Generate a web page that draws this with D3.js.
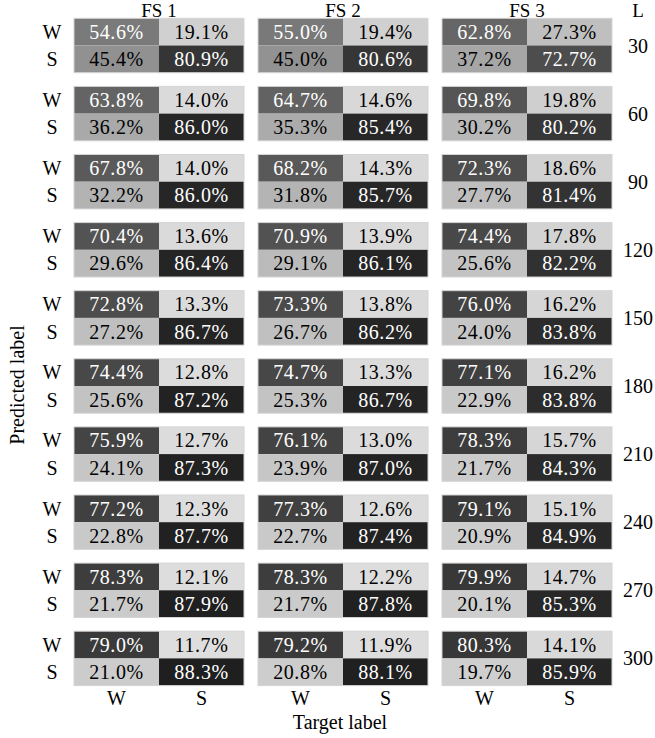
<!DOCTYPE html>
<html>
<head>
<meta charset="utf-8">
<script src="https://cdn.jsdelivr.net/npm/d3@7"></script>
<style>
  body { margin: 0; background: #fff; }
  svg text { font-family: "Liberation Serif", "DejaVu Serif", serif; }
  .pct { font-size: 20px; letter-spacing: 0.6px; }
  .lbl { font-size: 20px; }
  .title { font-size: 19px; }
</style>
</head>
<body>
<div id="chart-area"></div>
<script>
var lengths = [30, 60, 90, 120, 150, 180, 210, 240, 270, 300];
var featureSets = ['FS 1', 'FS 2', 'FS 3'];
var classes = ['W', 'S'];

// FS 1 (predicted row / target column)
var fs1WW = [54.6, 63.8, 67.8, 70.4, 72.8, 74.4, 75.9, 77.2, 78.3, 79.0];
var fs1WS = [19.1, 14.0, 14.0, 13.6, 13.3, 12.8, 12.7, 12.3, 12.1, 11.7];
var fs1SW = [45.4, 36.2, 32.2, 29.6, 27.2, 25.6, 24.1, 22.8, 21.7, 21.0];
var fs1SS = [80.9, 86.0, 86.0, 86.4, 86.7, 87.2, 87.3, 87.7, 87.9, 88.3];

// FS 2
var fs2WW = [55.0, 64.7, 68.2, 70.9, 73.3, 74.7, 76.1, 77.3, 78.3, 79.2];
var fs2WS = [19.4, 14.6, 14.3, 13.9, 13.8, 13.3, 13.0, 12.6, 12.2, 11.9];
var fs2SW = [45.0, 35.3, 31.8, 29.1, 26.7, 25.3, 23.9, 22.7, 21.7, 20.8];
var fs2SS = [80.6, 85.4, 85.7, 86.1, 86.2, 86.7, 87.0, 87.4, 87.8, 88.1];

// FS 3
var fs3WW = [62.8, 69.8, 72.3, 74.4, 76.0, 77.1, 78.3, 79.1, 79.9, 80.3];
var fs3WS = [27.3, 19.8, 18.6, 17.8, 16.2, 16.2, 15.7, 15.1, 14.7, 14.1];
var fs3SW = [37.2, 30.2, 27.7, 25.6, 24.0, 22.9, 21.7, 20.9, 20.1, 19.7];
var fs3SS = [72.7, 80.2, 81.4, 82.2, 83.8, 83.8, 84.3, 84.9, 85.3, 85.9];

var width = 655;
var height = 738;
var mid = 7; // shift from band centre to text baseline

var svg = d3.select('#chart-area').append('svg')
  .attr('width', width)
  .attr('height', height);

// build cell table from the arrays
var series = {
  'FS 1': { WW: fs1WW, WS: fs1WS, SW: fs1SW, SS: fs1SS },
  'FS 2': { WW: fs2WW, WS: fs2WS, SW: fs2SW, SS: fs2SS },
  'FS 3': { WW: fs3WW, WS: fs3WS, SW: fs3SW, SS: fs3SS }
};
var cells = [];
featureSets.forEach(fs => {
  lengths.forEach((len, i) => {
    classes.forEach(pred => {
      classes.forEach(target => {
        cells.push({ fs: fs, len: len, pred: pred, target: target, value: series[fs][pred + target][i] });
      });
    });
  });
});

// scales
var x = d3.scaleBand().domain(featureSets).range([74, 612]).paddingInner(0.076);
var y = d3.scaleBand().domain(lengths).range([18.3, 685.6]).paddingInner(0.201);
var xIn = d3.scaleBand().domain(classes).range([0, x.bandwidth()]);
var yIn = d3.scaleBand().domain(classes).range([0, y.bandwidth()]);
var shade = d3.scaleLinear().domain([0, 100]).range([0.12, 1.0]);

// cell backgrounds
svg.append('g').selectAll('rect')
  .data(cells)
  .enter().append('rect')
  .attr('x', d => x(d.fs) + xIn(d.target))
  .attr('y', d => y(d.len) + yIn(d.pred))
  .attr('width', xIn.bandwidth())
  .attr('height', yIn.bandwidth())
  .attr('fill', d => d3.interpolateGreys(shade(d.value)));

// thin outline around each matrix
featureSets.forEach(fs => {
  svg.append('g').selectAll('rect')
    .data(lengths)
    .enter().append('rect')
    .attr('x', x(fs))
    .attr('y', d => y(d))
    .attr('width', x.bandwidth())
    .attr('height', y.bandwidth())
    .attr('fill', 'none')
    .attr('stroke', '#d4d4d4')
    .attr('stroke-width', 1);
});

// cell values
svg.append('g').selectAll('text')
  .data(cells)
  .enter().append('text')
  .attr('class', 'pct')
  .attr('x', d => x(d.fs) + xIn(d.target) + xIn.bandwidth() / 2)
  .attr('y', d => y(d.len) + yIn(d.pred) + yIn.bandwidth() / 2 + mid)
  .attr('text-anchor', 'middle')
  .attr('fill', d => d.value > 50 ? '#fff' : '#000')
  .text(d => d.value.toFixed(1) + '%');

// row labels (predicted)
lengths.forEach(len => {
  svg.append('g').selectAll('text')
    .data(classes)
    .enter().append('text')
    .attr('class', 'lbl')
    .attr('x', 52)
    .attr('y', d => y(len) + yIn(d) + yIn.bandwidth() / 2 + mid)
    .attr('text-anchor', 'middle')
    .text(d => d);
});

// L labels on the right
svg.append('g').selectAll('text')
  .data(lengths)
  .enter().append('text')
  .attr('class', 'lbl')
  .attr('x', 638)
  .attr('y', d => y(d) + y.bandwidth() / 2 + mid)
  .attr('text-anchor', 'middle')
  .text(d => d);

svg.append('text')
  .attr('class', 'title')
  .attr('x', 638)
  .attr('y', 17)
  .attr('text-anchor', 'middle')
  .text('L');

// column titles
svg.append('g').selectAll('text')
  .data(featureSets)
  .enter().append('text')
  .attr('class', 'title')
  .attr('x', d => x(d) + x.bandwidth() / 2)
  .attr('y', 17)
  .attr('text-anchor', 'middle')
  .text(d => d);

// bottom target labels
featureSets.forEach(fs => {
  svg.append('g').selectAll('text')
    .data(classes)
    .enter().append('text')
    .attr('class', 'lbl')
    .attr('x', d => x(fs) + xIn(d) + xIn.bandwidth() / 2)
    .attr('y', 705)
    .attr('text-anchor', 'middle')
    .text(d => d);
});

// axis titles
svg.append('text')
  .attr('class', 'lbl')
  .attr('x', 340)
  .attr('y', 729)
  .attr('text-anchor', 'middle')
  .text('Target label');

svg.append('text')
  .attr('class', 'lbl')
  .attr('transform', 'translate(24,385) rotate(-90)')
  .attr('text-anchor', 'middle')
  .text('Predicted label');
</script>
</body>
</html>
